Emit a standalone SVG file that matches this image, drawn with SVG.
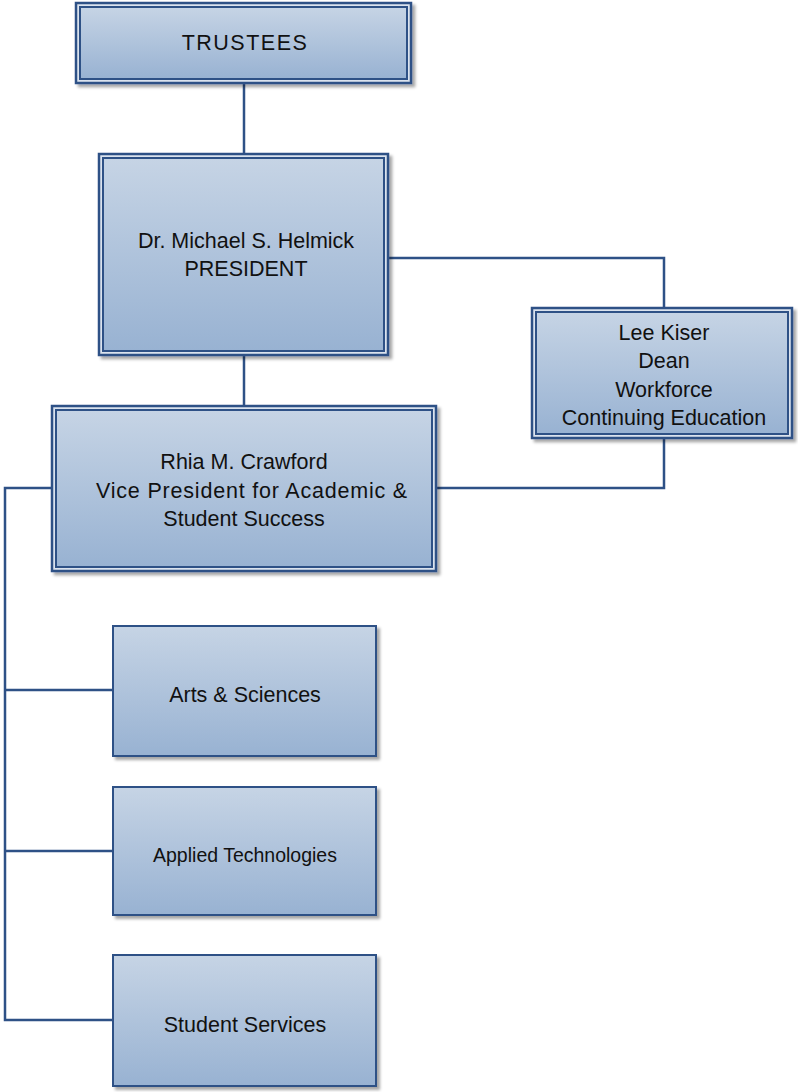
<svg xmlns="http://www.w3.org/2000/svg" width="798" height="1092" viewBox="0 0 798 1092">
<defs>
<linearGradient id="g" x1="0" y1="0" x2="0" y2="1">
<stop offset="0" stop-color="#c6d4e5"/>
<stop offset="1" stop-color="#98b2d2"/>
</linearGradient>
<filter id="sh" x="-10%" y="-10%" width="130%" height="130%">
<feDropShadow dx="3" dy="3" stdDeviation="1.5" flood-color="#000" flood-opacity="0.35"/>
</filter>
<style>
.o{fill:#dbe3ee;stroke:#2e5186;stroke-width:2.5;filter:url(#sh)}
.i{fill:url(#g);stroke:#2e5186;stroke-width:2}
.s{fill:url(#g);stroke:#2e5186;stroke-width:2;filter:url(#sh)}
.t{font-family:"Liberation Sans",Arial,sans-serif;font-size:21.5px;fill:#111;text-anchor:middle}
.c{fill:none;stroke:#2e5186;stroke-width:2.5}
</style>
</defs>
<rect width="798" height="1092" fill="#fff"/>
<g id="connectors">
<path class="c" d="M244 83V154"/>
<path class="c" d="M244 355V406"/>
<path class="c" d="M388 258H664V308"/>
<path class="c" d="M664 438V488H436"/>
<path class="c" d="M52 488H5V1020H113"/>
<path class="c" d="M5 690H113"/>
<path class="c" d="M5 851H113"/>
</g>
<g id="trustees">
<rect class="o" x="76" y="3" width="335" height="80"/>
<rect class="i" x="80" y="7" width="327" height="72"/>
<text class="t" x="245" y="50" letter-spacing="1.5">TRUSTEES</text>
</g>
<g id="president">
<rect class="o" x="99" y="154" width="289" height="201"/>
<rect class="i" x="103" y="158" width="281" height="193"/>
<text class="t" x="246" y="248">Dr. Michael S. Helmick</text>
<text class="t" x="246" y="276">PRESIDENT</text>
</g>
<g id="dean">
<rect class="o" x="532" y="308" width="260" height="130"/>
<rect class="i" x="536" y="312" width="252" height="122"/>
<text class="t" x="664" y="340">Lee Kiser</text>
<text class="t" x="664" y="368">Dean</text>
<text class="t" x="664" y="397">Workforce</text>
<text class="t" x="664" y="425">Continuing Education</text>
</g>
<g id="vp">
<rect class="o" x="52" y="406" width="384" height="165"/>
<rect class="i" x="56" y="410" width="376" height="157"/>
<text class="t" x="244" y="469">Rhia M. Crawford</text>
<text class="t" x="252" y="498" letter-spacing="0.8">Vice President for Academic &amp;</text>
<text class="t" x="244" y="526">Student Success</text>
</g>
<g id="arts">
<rect class="s" x="113" y="626" width="263" height="130"/>
<text class="t" x="245" y="702">Arts &amp; Sciences</text>
</g>
<g id="applied">
<rect class="s" x="113" y="787" width="263" height="128"/>
<text class="t" x="245" y="862" style="font-size:19.5px">Applied Technologies</text>
</g>
<g id="services">
<rect class="s" x="113" y="955" width="263" height="131"/>
<text class="t" x="245" y="1032">Student Services</text>
</g>
</svg>
